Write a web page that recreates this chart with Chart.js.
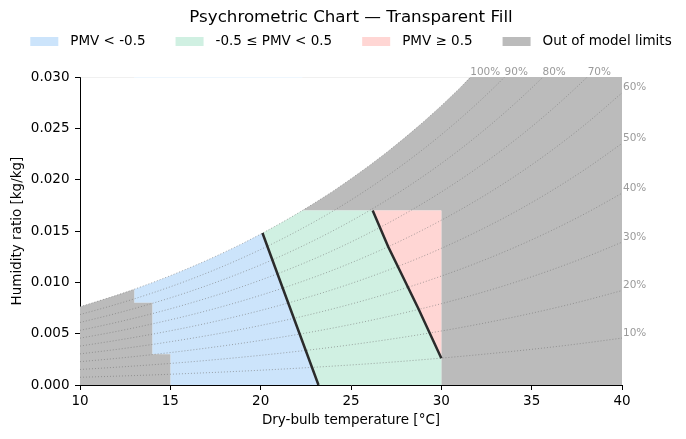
<!DOCTYPE html>
<html>
<head>
<meta charset="utf-8">
<title>Psychrometric Chart</title>
<script src="https://cdn.jsdelivr.net/npm/chart.js@4.4.1/dist/chart.umd.min.js"></script>
<style>
 html, body { margin: 0; padding: 0; background: #ffffff; }
 canvas { display: block; }
</style>
</head>
<body>
<canvas id="psychroChart" width="686" height="439"></canvas>
<script>
// relative humidity curves, humidity ratio [kg/kg] every 2 degC
var rhTemps = [10, 12, 14, 16, 18, 20, 22, 24, 26, 28, 30, 32, 34, 36, 38, 40];
var rh10 = [0.00075, 0.00086, 0.00098, 0.00112, 0.00127, 0.00144, 0.00163, 0.00184, 0.00207, 0.00233, 0.00262, 0.00294, 0.00329, 0.00367, 0.00410, 0.00457];
var rh20 = [0.00151, 0.00173, 0.00197, 0.00224, 0.00255, 0.00289, 0.00327, 0.00369, 0.00416, 0.00468, 0.00526, 0.00590, 0.00661, 0.00739, 0.00825, 0.00920];
var rh30 = [0.00227, 0.00259, 0.00296, 0.00337, 0.00383, 0.00434, 0.00491, 0.00555, 0.00626, 0.00705, 0.00792, 0.00889, 0.00996, 0.01115, 0.01246, 0.01391];
var rh40 = [0.00303, 0.00346, 0.00395, 0.00450, 0.00511, 0.00580, 0.00656, 0.00742, 0.00837, 0.00943, 0.01061, 0.01191, 0.01336, 0.01496, 0.01673, 0.01868];
var rh50 = [0.00379, 0.00434, 0.00495, 0.00563, 0.00640, 0.00726, 0.00823, 0.00930, 0.01050, 0.01183, 0.01331, 0.01496, 0.01678, 0.01881, 0.02105, 0.02353];
var rh60 = [0.00456, 0.00521, 0.00595, 0.00677, 0.00770, 0.00874, 0.00990, 0.01119, 0.01264, 0.01425, 0.01605, 0.01804, 0.02025, 0.02271, 0.02543, 0.02845];
var rh70 = [0.00532, 0.00609, 0.00695, 0.00792, 0.00900, 0.01022, 0.01158, 0.01310, 0.01480, 0.01669, 0.01880, 0.02115, 0.02375, 0.02665, 0.02987, 0.03344];
var rh80 = [0.00609, 0.00697, 0.00795, 0.00906, 0.01031, 0.01170, 0.01327, 0.01502, 0.01697, 0.01915, 0.02158, 0.02429, 0.02730, 0.03065, 0.03438];
var rh90 = [0.00686, 0.00785, 0.00896, 0.01021, 0.01162, 0.01320, 0.01497, 0.01694, 0.01916, 0.02163, 0.02438, 0.02745, 0.03088, 0.03469];

// saturation (100 %) curve every 1 degC
var satTemps = [10, 11, 12, 13, 14, 15, 16, 17, 18, 19, 20, 21, 22, 23, 24, 25, 26, 27, 28, 29, 30, 31, 32];
var satRatio = [0.00763, 0.00817, 0.00873, 0.00933, 0.00997, 0.01065, 0.01137, 0.01213, 0.01294, 0.01379, 0.01470, 0.01566, 0.01667, 0.01775, 0.01888, 0.02009, 0.02136, 0.02270, 0.02412, 0.02562, 0.02721, 0.02889, 0.03066];

// PMV = -0.5 and PMV = +0.5 boundaries (top -> bottom)
var pmvLowTemps = [20.1, 21.25, 23.2];
var pmvLowRatio = [0.0148, 0.0093, 0.0];
var pmvHighTemps = [26.2, 27.06, 28.72, 30.0];
var pmvHighRatio = [0.0170, 0.01347, 0.00747, 0.0026];

// model limits
var stepTemps = [13, 14, 14, 15, 15];
var stepRatio = [0.008, 0.008, 0.003, 0.003, 0.0];
var limitMaxTemp = 30;
var limitMaxRatio = 0.017;
var limitCornerTemp = 22.3;
var satTopTemp = 31.6;

// axes
var xTickValues = [10, 15, 20, 25, 30, 35, 40];
var yTickValues = [0, 0.005, 0.010, 0.015, 0.020, 0.025, 0.030];

// RH labels
var topLabelText = ["100%", "90%", "80%", "70%"];
var topLabelTemps = [31.6, 33.5, 35.6, 38.1];
var sideLabelText = ["60%", "50%", "40%", "30%", "20%", "10%"];

var legendText = ["PMV < -0.5", "-0.5 \u2264 PMV < 0.5", "PMV \u2265 0.5", "Out of model limits"];

var COOL = "#cce4fb";
var NEUTRAL = "#d0f0e2";
var WARM = "#ffd6d4";
var LIMIT = "#bbbbbb";
var legendColors = [COOL, NEUTRAL, WARM, LIMIT];

var xMin = xTickValues[0], xMax = xTickValues[xTickValues.length - 1];
var yMin = yTickValues[0], yMax = yTickValues[yTickValues.length - 1];

function pts(ts, ws) {
  return ws.map(function (w, i) {
    return { x: ts[i], y: w };
  });
}

function satPts(t0, t1) {
  var out = [];
  satTemps.forEach(function (t, i) {
    if (t >= t0 && t <= t1) out.push({ x: t, y: satRatio[i] });
  });
  return out;
}

var pmvLow = pts(pmvLowTemps, pmvLowRatio);
var pmvHigh = pts(pmvHighTemps, pmvHighRatio);
var pmvLowUp = pmvLow.slice().reverse();
var steps = pts(stepTemps, stepRatio);

var limitLeft = [{ x: xMin, y: 0 }].concat(satPts(xMin, stepTemps[0]), steps);
var coolZone = steps.concat(pmvLowUp, satPts(stepTemps[0], pmvLowTemps[0]).reverse());
var neutralZone = pmvLowUp.concat(
  satPts(pmvLowTemps[0], limitCornerTemp),
  [{ x: limitCornerTemp, y: limitMaxRatio }],
  pmvHigh,
  [{ x: limitMaxTemp, y: 0 }]
);
var warmZone = pmvHigh.concat([{ x: limitMaxTemp, y: limitMaxRatio }]);
var limitRight = [{ x: limitCornerTemp, y: limitMaxRatio }].concat(
  satPts(limitCornerTemp, satTopTemp),
  [
    { x: satTopTemp, y: yMax },
    { x: xMax, y: yMax },
    { x: xMax, y: 0 },
    { x: limitMaxTemp, y: 0 },
    { x: limitMaxTemp, y: limitMaxRatio },
  ]
);

var rhSeries = [rh10, rh20, rh30, rh40, rh50, rh60, rh70, rh80, rh90];

function zone(data, color) {
  return {
    data: data,
    backgroundColor: color,
    borderColor: "rgba(0,0,0,0)",
    borderWidth: 0,
    showLine: false,
    fill: "shape",
    pointRadius: 0,
    order: 5,
  };
}

function edge(data, color) {
  return {
    data: data,
    borderColor: color,
    borderWidth: 1,
    fill: false,
    pointRadius: 0,
    order: 4,
  };
}

function rhLine(data) {
  return {
    data: data,
    borderColor: "rgba(115,115,115,0.6)",
    borderWidth: 1,
    borderDash: [1, 2],
    fill: false,
    pointRadius: 0,
    cubicInterpolationMode: "monotone",
    capBezierPoints: false,
    order: 3,
  };
}

function pmvLine(data) {
  return {
    data: data,
    borderColor: "#2b2b2b",
    borderWidth: 2.5,
    fill: false,
    pointRadius: 0,
    order: 1,
  };
}

var datasets = [
  zone(limitLeft, LIMIT),
  zone(coolZone, COOL),
  zone(neutralZone, NEUTRAL),
  zone(warmZone, WARM),
  zone(limitRight, LIMIT),
  edge([{ x: xMin, y: yMax }, { x: stepTemps[0], y: yMax }], "rgba(187,187,187,0.45)"),
  edge([{ x: stepTemps[0], y: yMax }, { x: limitCornerTemp, y: yMax }], "rgba(190,220,250,0.5)"),
  edge([{ x: limitCornerTemp, y: yMax }, { x: satTopTemp, y: yMax }], "rgba(187,187,187,0.45)"),
];
rhSeries.forEach(function (s) {
  datasets.push(rhLine(pts(rhTemps, s)));
});
datasets.push(rhLine(pts(satTemps, satRatio)));
datasets.push(pmvLine(pmvLow));
datasets.push(pmvLine(pmvHigh));

var rhLabelPlugin = {
  id: "rhLabels",
  afterDatasetsDraw: function (chart) {
    var ctx = chart.ctx;
    var xs = chart.scales.x;
    var ys = chart.scales.y;
    var area = chart.chartArea;
    ctx.save();
    ctx.font = '10.5px "DejaVu Sans"';
    ctx.fillStyle = "#9a9a9a";
    ctx.textAlign = "left";
    ctx.textBaseline = "bottom";
    topLabelText.forEach(function (txt, i) {
      ctx.fillText(txt, xs.getPixelForValue(topLabelTemps[i]), area.top + 1);
    });
    sideLabelText.forEach(function (txt, i) {
      var s = rhSeries[5 - i];
      ctx.fillText(txt, area.right + 1, ys.getPixelForValue(s[s.length - 1]));
    });
    ctx.restore();
  },
};

var legendPlugin = {
  id: "zoneLegend",
  afterDraw: function (chart) {
    var ctx = chart.ctx;
    var area = chart.chartArea;
    ctx.save();
    ctx.font = '13.5px "DejaVu Sans"';
    ctx.textAlign = "left";
    ctx.textBaseline = "middle";
    var widths = legendText.map(function (t) {
      return ctx.measureText(t).width;
    });
    var total = widths.reduce(function (a, b) { return a + b; }, 0) + legendText.length * 40 + (legendText.length - 1) * 30;
    var x = (area.left + area.right) / 2 - total / 2;
    var y = 41.5;
    legendText.forEach(function (t, i) {
      ctx.fillStyle = legendColors[i];
      ctx.fillRect(x, y - 4.5, 28, 9);
      ctx.fillStyle = "#000000";
      ctx.fillText(t, x + 40, y);
      x += 40 + widths[i] + 30;
    });
    ctx.restore();
  },
};

Chart.defaults.font.family = '"DejaVu Sans", sans-serif';
Chart.defaults.color = "#000000";

function axis(min, max, ticks, title, fmt) {
  return {
    type: "linear",
    min: min,
    max: max,
    afterBuildTicks: function (scale) {
      scale.ticks = ticks.map(function (v) {
        return { value: v };
      });
    },
    ticks: {
      font: { size: 13.5 },
      color: "#000000",
      callback: fmt,
    },
    grid: {
      display: true,
      drawOnChartArea: false,
      drawTicks: true,
      tickLength: 5,
      color: "#000000",
    },
    border: { display: true, color: "#000000", width: 1 },
    title: {
      display: true,
      text: title,
      font: { size: 13.5 },
      color: "#000000",
    },
  };
}

var xAxis = axis(xMin, xMax, xTickValues, "Dry-bulb temperature [\u00b0C]", function (v) {
  return String(v);
});
xAxis.position = "bottom";
xAxis.ticks.padding = 3;
xAxis.title.padding = { top: 0, bottom: 10.6 };
xAxis.afterFit = function (scale) {
  scale.height = 54;
};

var yAxis = axis(yMin, yMax, yTickValues, "Humidity ratio [kg/kg]", function (v) {
  return Number(v).toFixed(3);
});
yAxis.position = "left";
yAxis.ticks.padding = 5.5;
yAxis.title.padding = { top: -7, bottom: 0 };
yAxis.afterFit = function (scale) {
  scale.width = 64;
};

new Chart(document.getElementById("psychroChart"), {
  type: "line",
  data: { datasets: datasets },
  options: {
    responsive: false,
    animation: false,
    events: [],
    layout: { padding: { left: 16, right: 0, top: 0, bottom: 0 } },
    scales: {
      x: xAxis,
      y: yAxis,
      yRight: {
        type: "linear",
        position: "right",
        display: true,
        grid: { display: false },
        ticks: { display: false },
        border: { display: false },
        afterFit: function (scale) {
          scale.width = 64;
        },
      },
    },
    plugins: {
      legend: { display: false },
      tooltip: { enabled: false },
      title: {
        display: true,
        text: "Psychrometric Chart \u2014 Transparent Fill",
        font: { size: 16.7, weight: "normal" },
        color: "#000000",
        padding: { top: 8, bottom: 48.96 },
      },
    },
  },
  plugins: [rhLabelPlugin, legendPlugin],
});
</script>
</body>
</html>
